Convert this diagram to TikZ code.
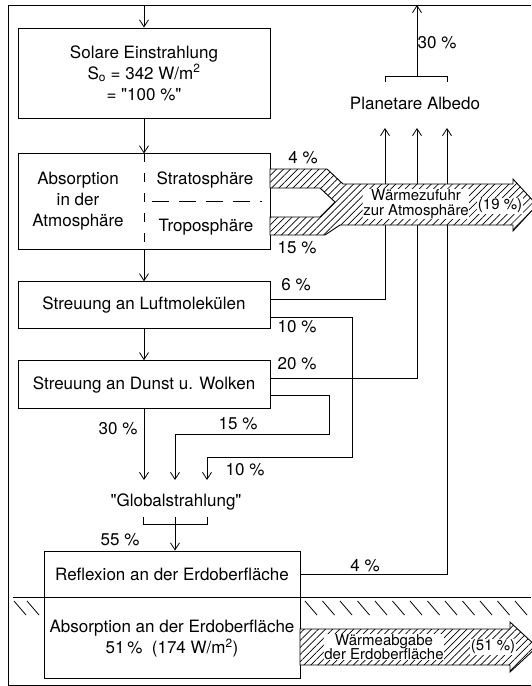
\documentclass[tikz,border=0pt]{standalone}
\usepackage{fontspec}
\setmainfont{TeX Gyre Heros}
\usetikzlibrary{shapes,arrows.meta,positioning,patterns.meta}
\tikzstyle{block} = [rectangle, draw, line width=0.9pt, text centered, align=center,
    minimum width=252pt, inner sep=0pt, font=\fontsize{17}{21}\selectfont]
\tikzstyle{line} = [draw, line width=0.8pt, -{Straight Barb[length=7pt,width=9pt,line width=0.8pt]}]
\tikzstyle{wire} = [draw, line width=0.8pt]
\tikzstyle{lbl} = [inner sep=0pt, align=center, font=\fontsize{17}{21}\selectfont]
\tikzstyle{small} = [fill=white, inner xsep=0.5pt, inner ysep=0.5pt, align=center,
    font=\fontsize{15}{14.5}\selectfont]
\tikzstyle{band} = [draw, line width=0.9pt, preaction={fill=white},
    pattern={Lines[angle=45,distance=5pt,line width=0.7pt]}]
\tikzstyle{hatch} = [draw, line width=0.8pt]

\begin{document}
\begin{tikzpicture}[x=1pt, y=-1pt, node distance=2cm]
    \useasboundingbox (0,0) rectangle (531,686);
    % Frame and ground
    \draw [wire] (531,5) -- (8,5) -- (8,685) -- (531,685);
    \draw [wire] (13,597) -- (531,597);
    \foreach \x in {14,27}
        \draw [hatch] (\x,601) -- (\x+12,615);
    \foreach \x in {305,322.5,...,531}
        \draw [hatch] (\x,601) -- (\x+12,615);
    % Place nodes
    \node [block, minimum height=90pt] (solar) at (144,73)
        {Solare Einstrahlung\\S\textsubscript{o} = 342 W/m\textsuperscript{2}\\= \textquotedbl 100 \%\textquotedbl};
    \node [block, minimum height=96pt, below=35pt of solar] (absorb) {};
    \node [block, minimum height=47pt, below=31pt of absorb] (luft) {Streuung an Luftmolekülen};
    \node [block, minimum height=48pt, below=31pt of luft] (dunst) {Streuung an Dunst u. Wolken};
    \node [block, minimum width=256pt, minimum height=46pt] (reflex) at (172,574) {Reflexion an der Erdoberfläche};
    \node [block, minimum width=256pt, minimum height=81pt, below=0pt of reflex] (earth)
        {Absorption an der Erdoberfläche\\51\,\% \ (174 W/m\textsuperscript{2})};
    \node [lbl] (atmtext) at (78,201) {Absorption\\in der\\Atmosphäre};
    \node [lbl] (strato) at (205,180) {Stratosphäre};
    \node [lbl] (tropo) at (206,227) {Troposphäre};
    \node [lbl] (glob) at (176,502) {\textquotedbl Globalstrahlung\textquotedbl};
    \node [lbl] (albedo) at (415,103) {Planetare Albedo};
    \coordinate (sun) at (144,5);
    \coordinate (space) at (417,5);
    \coordinate (a1) at (385,128);
    \coordinate (a2) at (417,128);
    \coordinate (a3) at (447,128);
    \coordinate (g1) at (144,480);
    \coordinate (g2) at (175,480);
    \coordinate (g3) at (207,480);
    \coordinate (gb) at (175,517);
    % Draw edges
    \path [line] (sun) -- (solar);
    \path [line] (solar) -- (absorb);
    \path [line] (absorb) -- (luft);
    \path [line] (luft) -- (dunst);
    \path [line] (dunst) -- (g1);
    \path [line] ([yshift=-11pt]dunst.east) -| (329,434) -| (g2);
    \path [line] ([yshift=-12pt]luft.east) -| (352,457) -| (g3);
    \path [line] ([yshift=6pt]luft.east) -| (a1);
    \path [line] ([yshift=6pt]dunst.east) -| (a2);
    \path [line] (reflex.east) -| (a3);
    \draw [wire] (385,82) -- (385,76) -- (447,76) -- (447,82);
    \path [line] (417,76) -- (space);
    \draw [wire] (143,517) -- (143,524) -- (207,524) -- (207,517);
    \path [line] (gb) -- (gb |- reflex.north);
    \draw [line width=0.8pt, dash pattern=on 9pt off 11pt] (absorb.north) -- (absorb.south);
    \draw [line width=0.8pt, dash pattern=on 17pt off 10pt] (152,201) -- (262,201);
    % Heat bands
    \path [band] (270,169) -- (327,169) -- (343,184) -- (513,184) -- (513,179) -- (537,205)
        -- (513,231) -- (513,225) -- (340,225) -- (325,235) -- (270,235) -- (270,217)
        -- (320,217) -- (335,202) -- (320,188) -- (270,188) -- cycle;
    \node [small] (heatin) at (416,204) {Wärmezufuhr\\zur Atmosphäre};
    \node [small] (heatinpct) at (500,206) {(19 \%)};
    \path [band] (300,629) -- (510,629) -- (510,622) -- (537,647) -- (510,672) -- (510,665)
        -- (300,665) -- cycle;
    \node [small] (heatout) at (384,647) {Wärmeabgabe\\der Erdoberfläche};
    \node [small] (heatoutpct) at (493,647) {(51 \%)};
    % Percentages
    \node [lbl] (p4a) at (303,158) {4 \%};
    \node [lbl] (p15a) at (297,248) {15 \%};
    \node [lbl] (p6) at (296,285) {6 \%};
    \node [lbl] (p10a) at (297,327) {10 \%};
    \node [lbl] (p20) at (297,364) {20 \%};
    \node [lbl] (p15b) at (238,424) {15 \%};
    \node [lbl] (p10b) at (245,470) {10 \%};
    \node [lbl] (p30a) at (118,429) {30 \%};
    \node [lbl] (p55) at (120,540) {55 \%};
    \node [lbl] (p4b) at (365,566) {4 \%};
    \node [lbl] (p30b) at (437,43) {30 \%};
\end{tikzpicture}
\end{document}
